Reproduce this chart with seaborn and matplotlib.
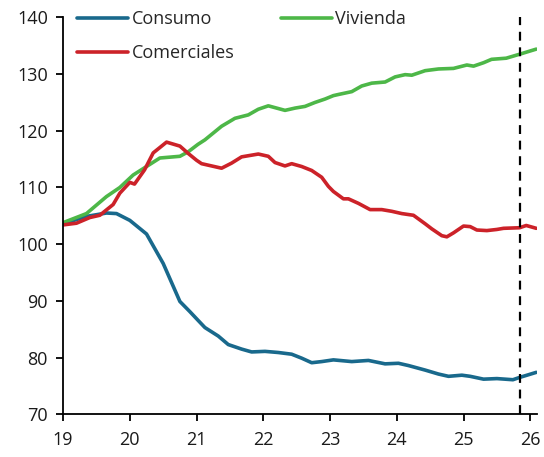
import numpy as np
import pandas as pd
import matplotlib
matplotlib.use("Agg")
import matplotlib.pyplot as plt
import seaborn as sns
from matplotlib.lines import Line2D

# ---- data ----
consumo_x = [19.0, 19.35, 19.65, 19.8, 20.0, 20.25, 20.5, 20.75, 20.9, 21.02, 21.125, 21.325,
             21.475, 21.675, 21.825, 22.025, 22.225, 22.425, 22.575, 22.725, 22.875, 23.05,
             23.325, 23.575, 23.825, 24.025, 24.175, 24.425, 24.625, 24.775, 24.975, 25.1,
             25.3, 25.5, 25.74, 25.84, 26.09]
consumo_y = [103.6, 104.9, 105.5, 105.4, 104.2, 101.8, 96.6, 89.9, 88.1, 86.6, 85.3, 83.8,
             82.3, 81.5, 81.0, 81.1, 80.9, 80.6, 79.9, 79.1, 79.3, 79.6,
             79.3, 79.5, 78.9, 79.0, 78.6, 77.8, 77.1, 76.7, 76.9, 76.7,
             76.2, 76.3, 76.1, 76.5, 77.4]

vivienda_x = [19.0, 19.35, 19.65, 19.85, 20.05, 20.25, 20.45, 20.75, 20.875, 21.02, 21.125,
              21.375, 21.575, 21.775, 21.925, 22.075, 22.325, 22.475, 22.625, 22.775, 22.925,
              23.05, 23.125, 23.325, 23.475, 23.625, 23.825, 23.975, 24.125, 24.225, 24.425,
              24.625, 24.85, 25.05, 25.15, 25.3, 25.42, 25.64, 25.84, 26.09]
vivienda_y = [103.8, 105.4, 108.4, 110.0, 112.2, 113.7, 115.2, 115.5, 116.3, 117.6, 118.4,
              120.8, 122.2, 122.8, 123.8, 124.4, 123.6, 124.0, 124.3, 125.0, 125.6,
              126.2, 126.4, 126.9, 127.9, 128.4, 128.6, 129.5, 129.9, 129.8, 130.6,
              130.9, 131.0, 131.6, 131.4, 132.0, 132.6, 132.8, 133.5, 134.4]

comerciales_x = [19.0, 19.2, 19.4, 19.55, 19.75, 19.85, 20.0, 20.07, 20.22, 20.35, 20.55,
                 20.75, 20.875, 21.0, 21.075, 21.375, 21.525, 21.675, 21.925, 22.075, 22.175,
                 22.325, 22.425, 22.575, 22.725, 22.875, 22.975, 23.05, 23.2, 23.275, 23.425,
                 23.6, 23.775, 23.925, 24.075, 24.25, 24.425, 24.525, 24.675, 24.75, 24.85,
                 25.0, 25.1, 25.2, 25.35, 25.5, 25.6, 25.84, 25.94, 26.09]
comerciales_y = [103.4, 103.7, 104.7, 105.1, 107.0, 109.0, 110.9, 110.6, 113.1, 116.1, 118.0,
                 117.3, 116.0, 114.8, 114.2, 113.4, 114.3, 115.4, 115.9, 115.5, 114.4,
                 113.8, 114.2, 113.7, 113.0, 111.8, 110.2, 109.3, 108.0, 108.0, 107.2,
                 106.1, 106.1, 105.8, 105.4, 105.1, 103.6, 102.7, 101.5, 101.3, 102.0,
                 103.2, 103.1, 102.5, 102.4, 102.6, 102.8, 102.9, 103.3, 102.8]

series_names = ["Consumo", "Vivienda", "Comerciales"]
colors = {"Consumo": "#19698C", "Vivienda": "#4DB748", "Comerciales": "#CC2229"}
x_ticks = [19, 20, 21, 22, 23, 24, 25, 26]
y_ticks = [70, 80, 90, 100, 110, 120, 130, 140]
cutoff_x = 25.85

df = pd.concat([
    pd.DataFrame({"x": consumo_x, "y": consumo_y, "serie": "Consumo"}),
    pd.DataFrame({"x": vivienda_x, "y": vivienda_y, "serie": "Vivienda"}),
    pd.DataFrame({"x": comerciales_x, "y": comerciales_y, "serie": "Comerciales"}),
], ignore_index=True)

sns.set_theme(style="ticks")
plt.rcParams["font.family"] = ["Open Sans", "DejaVu Sans"]

fig = plt.figure(figsize=(5.44, 4.57), dpi=100)
ax = fig.add_axes([0.116, 0.0934, 0.871, 0.8686])

sns.lineplot(data=df, x="x", y="y", hue="serie", hue_order=series_names,
             palette=colors, linewidth=2.6, ax=ax, legend=False,
             estimator=None, sort=False)

ax.axvline(cutoff_x, color="black", linewidth=1.6, linestyle=(0, (4, 3)), zorder=5)

ax.set_xlim(19, 26.1)
ax.set_ylim(70, 140)
ax.set_xticks(x_ticks)
ax.set_xticklabels([str(t) for t in x_ticks])
ax.set_yticks(y_ticks)
ax.set_yticklabels([str(t) for t in y_ticks])
ax.set_xlabel("")
ax.set_ylabel("")
ax.tick_params(axis="both", labelsize=13, direction="out", length=5, width=1.3,
               color="black", labelcolor="#1a1a1a")
ax.tick_params(axis="y", pad=6)
ax.tick_params(axis="x", pad=7)
for s in ["top", "right"]:
    ax.spines[s].set_visible(False)
for s in ["left", "bottom"]:
    ax.spines[s].set_color("black")
    ax.spines[s].set_linewidth(1.3)

order = ["Consumo", "Comerciales", "Vivienda"]
handles = [Line2D([0], [0], color=colors[n], linewidth=2.6) for n in order]
leg = ax.legend(handles, order, ncol=2, loc="upper left", bbox_to_anchor=(0.015, 1.037),
                frameon=False, fontsize=13, handlelength=2.8, handletextpad=0.2,
                columnspacing=2.6, labelspacing=0.9, borderaxespad=0.0)

fig.savefig("out.png", dpi=100)
